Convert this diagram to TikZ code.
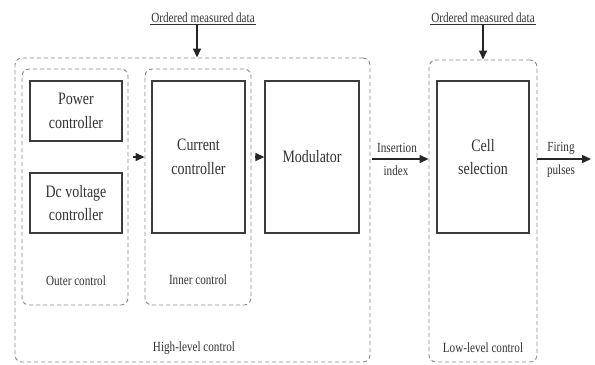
\documentclass[tikz,border=0pt]{standalone}
\usepackage{fontspec}
\setmainfont[FakeStretch=0.8]{Liberation Serif}
\usetikzlibrary{arrows.meta}
\definecolor{txt}{RGB}{50,50,50}
\definecolor{boxline}{RGB}{60,60,60}
\definecolor{dash}{RGB}{135,135,135}
\begin{document}
\begin{tikzpicture}[x=1bp,y=-1bp,
  group/.style={draw=dash,line width=0.9bp,dash pattern=on 4bp off 3bp,rounded corners=7bp,inner sep=0pt},
  blk/.style={draw=boxline,line width=1.3bp,inner sep=0pt,align=center,text=txt,font=\fontsize{17.5}{24}\selectfont},
  lbl/.style={text=txt,inner sep=1bp,font=\fontsize{14}{16}\selectfont,align=center},
  arr/.style={draw=black!85,line width=1.4bp,-{Triangle[length=9bp,width=8bp]}}]
\useasboundingbox (0,0) rectangle (595,364);
% group boxes
\node[group,minimum width=355bp,minimum height=304bp] (hl) at (192.5,210) {};
\node[group,minimum width=106bp,minimum height=236bp] (outer) at (75,187) {};
\node[group,minimum width=106bp,minimum height=236bp] (inner) at (198,187) {};
\node[group,minimum width=108bp,minimum height=302bp] (ll) at (483,211) {};
% blocks
\node[blk,minimum width=92bp,minimum height=60bp] (power) at (76,111) {Power\\controller};
\node[blk,minimum width=92bp,minimum height=60bp] (dcv) at (76,203) {Dc voltage\\controller};
\node[blk,minimum width=93bp,minimum height=152bp] (cur) at (198.5,157) {Current\\controller};
\node[blk,minimum width=94bp,minimum height=152bp] (mod) at (312,157) {Modulator};
\node[blk,minimum width=92bp,minimum height=152bp] (cell) at (483,157) {Cell\\selection};
% group labels
\node[lbl] (lo) at (76,281) {Outer control};
\node[lbl] (li) at (198,280) {Inner control};
\node[lbl] (lh) at (194,348) {High-level control};
\node[lbl] (ll2) at (483,348) {Low-level control};
% data inputs
\node[lbl] (od1) at (203,18) {Ordered measured data};
\node[lbl] (od2) at (483,18) {Ordered measured data};
\draw[draw=black!80,line width=0.8bp] (od1.south west) -- (od1.south east);
\draw[draw=black!80,line width=0.8bp] (od2.south west) -- (od2.south east);
\coordinate (a1) at (197,0);
\draw[arr] (a1 |- od1.south) -- (a1 |- hl.north);
\draw[arr] (od2.south) -- (ll.north);
% flow arrows
\draw[arr] ([xshift=5bp]outer.east |- cur.west) -- (inner.west |- cur.west);
\draw[arr] ([xshift=4bp]inner.east |- mod.west) -- (mod.west);
\coordinate (fp) at (591,159);
\draw[arr] ([xshift=2bp]hl.east |- fp) -- (ll.west |- fp);
\draw[arr] (ll.east |- fp) -- (fp);
\node[lbl] (ins) at (397,148) {Insertion};
\node[lbl] (idx) at (396,171) {index};
\node[lbl] (fir) at (561,148) {Firing};
\node[lbl] (pul) at (561,171) {pulses};
\end{tikzpicture}
\end{document}
